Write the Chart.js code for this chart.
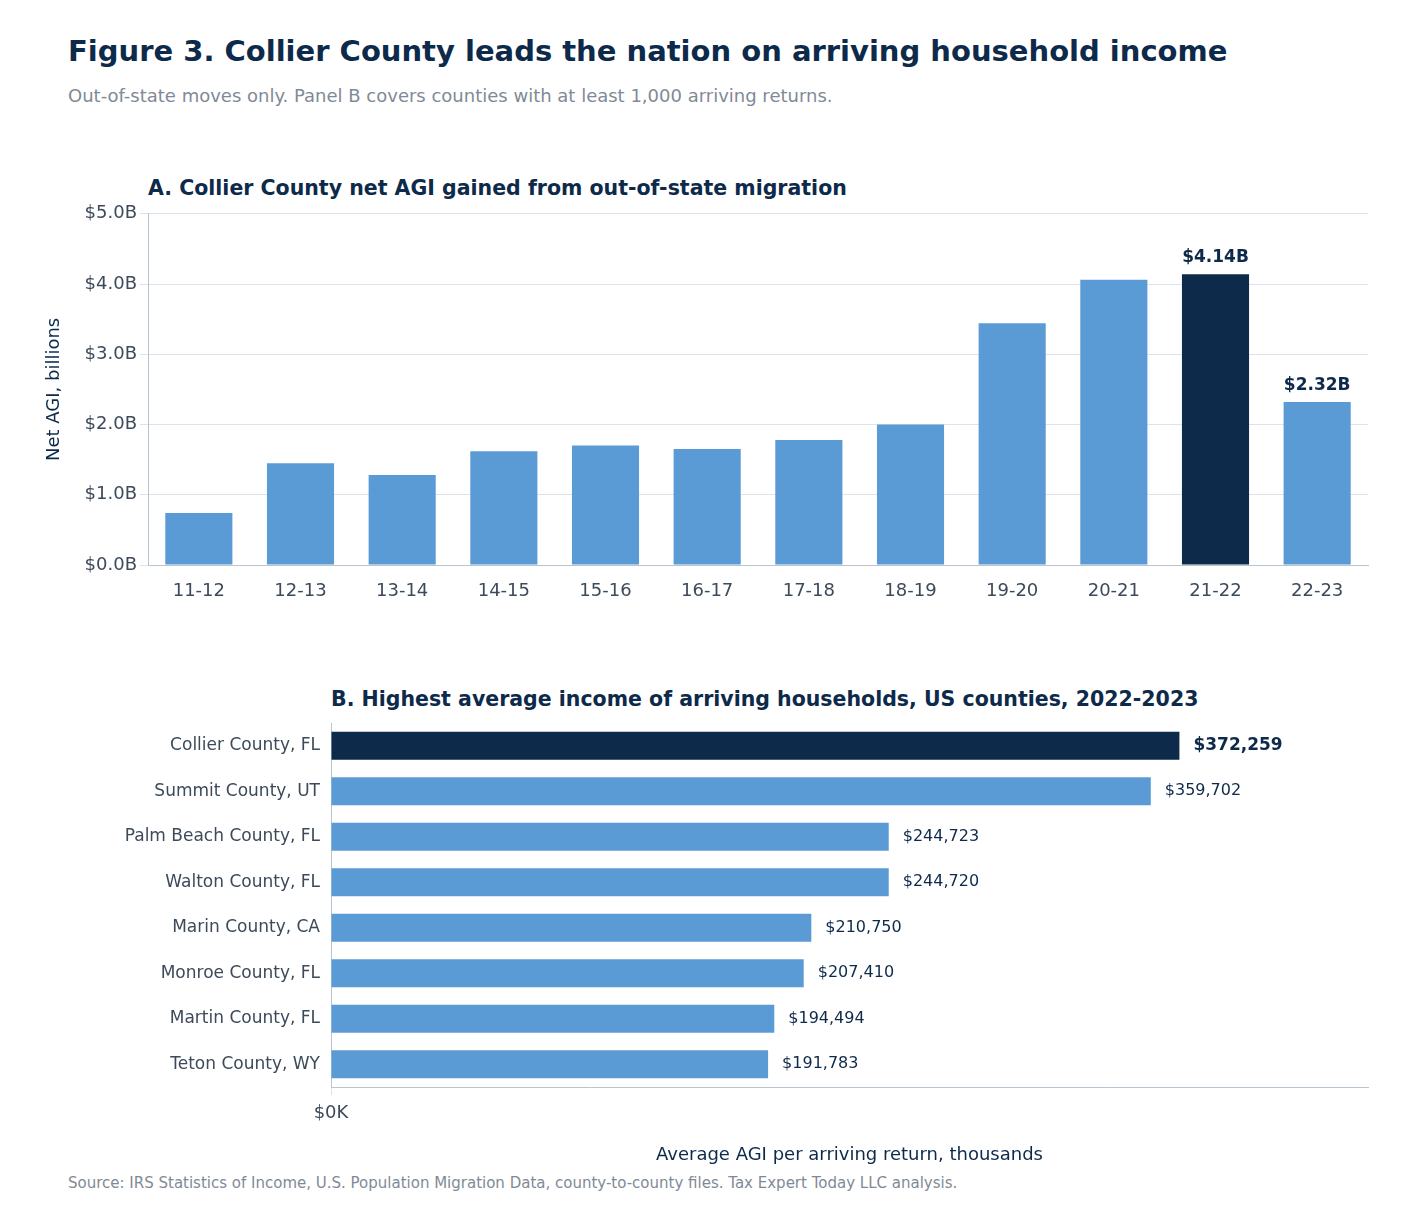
<!DOCTYPE html>
<html lang="en">
<head>
<meta charset="UTF-8">
<title>Figure 3</title>
<script src="https://cdn.jsdelivr.net/npm/chart.js"></script>
<style>
    body { margin: 0; background: #fff; font-family: "DejaVu Sans", sans-serif; width: 1410px; height: 1215px; position: relative; overflow: hidden; }
    .abs { position: absolute; white-space: nowrap; }
    #title { left: 68px; top: 34px; font-size: 29px; font-weight: bold; color: #0d2a4a; }
    #sub { left: 68px; top: 85px; font-size: 18px; color: #7f8a96; }
    .ptitle { font-size: 20.5px; font-weight: bold; color: #0d2a4a; }
    #source { left: 68px; top: 1174px; font-size: 15px; color: #7f8a96; }
</style>
</head>
<body>
<div class="abs" id="title">Figure 3. Collier County leads the nation on arriving household income</div>
<div class="abs" id="sub">Out-of-state moves only. Panel B covers counties with at least 1,000 arriving returns.</div>
<div class="abs ptitle" style="left:148px;top:176px">A. Collier County net AGI gained from out-of-state migration</div>
<div class="abs ptitle" style="left:331px;top:687px">B. Highest average income of arriving households, US counties, 2022-2023</div>
<div class="abs" style="left:0;top:200px;width:1410px;height:420px"><canvas id="chartA"></canvas></div>
<div class="abs" style="left:0;top:700px;width:1410px;height:470px"><canvas id="chartB"></canvas></div>
<div class="abs" id="source">Source: IRS Statistics of Income, U.S. Population Migration Data, county-to-county files. Tax Expert Today LLC analysis.</div>
<script>
    const years = ['11-12', '12-13', '13-14', '14-15', '15-16', '16-17', '17-18', '18-19', '19-20', '20-21', '21-22', '22-23'];
    const netAgi = [0.74, 1.45, 1.28, 1.62, 1.70, 1.65, 1.78, 2.00, 3.44, 4.06, 4.14, 2.32];
    const labeledYears = ['21-22', '22-23'];

    const counties = ['Collier County, FL', 'Summit County, UT', 'Palm Beach County, FL', 'Walton County, FL', 'Marin County, CA', 'Monroe County, FL', 'Martin County, FL', 'Teton County, WY'];
    const avgAgi = [372259, 359702, 244723, 244720, 210750, 207410, 194494, 191783];

    const navy = '#0d2a4a', blue = '#5b9bd5', grid = '#dbe3ec', axis = '#b8c4d0', tickC = '#3d4a5a';
    Chart.defaults.font.family = '"DejaVu Sans", sans-serif';
    Chart.defaults.animation = false;

    const barLabelsA = {
        id: 'barLabelsA',
        afterDatasetsDraw(chart) {
            const ctx = chart.ctx;
            const meta = chart.getDatasetMeta(0);
            ctx.save();
            ctx.font = 'bold 17px "DejaVu Sans"';
            ctx.fillStyle = navy;
            ctx.textAlign = 'center';
            ctx.textBaseline = 'bottom';
            years.forEach((y, i) => {
                if (!labeledYears.includes(y)) return;
                const el = meta.data[i];
                ctx.fillText('$' + netAgi[i].toFixed(2) + 'B', el.x, el.y - 8);
            });
            ctx.restore();
        }
    };

    new Chart(document.getElementById('chartA'), {
        type: 'bar',
        data: {
            labels: years,
            datasets: [{
                data: netAgi,
                backgroundColor: years.map(y => y === '21-22' ? navy : blue),
                categoryPercentage: 1,
                barPercentage: 0.66
            }]
        },
        plugins: [barLabelsA],
        options: {
            responsive: true,
            maintainAspectRatio: false,
            layout: { padding: { left: 40, right: 42, top: 13, bottom: 0 } },
            plugins: { legend: { display: false }, tooltip: { enabled: false } },
            scales: {
                x: {
                    grid: { display: false },
                    border: { color: axis },
                    ticks: { color: tickC, font: { size: 18 }, padding: 8 },
                    afterFit(s) { s.height = 55; }
                },
                y: {
                    min: 0, max: 5,
                    grid: { color: grid },
                    border: { color: axis },
                    ticks: { stepSize: 1, color: tickC, font: { size: 18 }, callback: v => '$' + v.toFixed(1) + 'B' },
                    title: { display: true, text: 'Net AGI, billions', color: navy, font: { size: 18 } },
                    afterFit(s) { s.width = 108; }
                }
            }
        }
    });

    const barLabelsB = {
        id: 'barLabelsB',
        afterDatasetsDraw(chart) {
            const ctx = chart.ctx;
            const meta = chart.getDatasetMeta(0);
            ctx.save();
            ctx.fillStyle = navy;
            ctx.textAlign = 'left';
            ctx.textBaseline = 'middle';
            counties.forEach((c, i) => {
                const el = meta.data[i];
                ctx.font = (i === 0 ? 'bold 17px' : '16px') + ' "DejaVu Sans"';
                ctx.fillText('$' + avgAgi[i].toLocaleString('en-US'), el.x + 14, el.y);
            });
            ctx.restore();
        }
    };

    new Chart(document.getElementById('chartB'), {
        type: 'bar',
        data: {
            labels: counties,
            datasets: [{
                data: avgAgi,
                backgroundColor: counties.map((c, i) => i === 0 ? navy : blue),
                categoryPercentage: 1,
                barPercentage: 0.62
            }]
        },
        plugins: [barLabelsB],
        options: {
            indexAxis: 'y',
            responsive: true,
            maintainAspectRatio: false,
            layout: { padding: { left: 0, right: 42, top: 23, bottom: 0 } },
            plugins: { legend: { display: false }, tooltip: { enabled: false } },
            scales: {
                x: {
                    min: 0, max: 455000,
                    grid: { color: c => (c.tick && c.tick.value % 100000 === 0) ? grid : 'rgba(0,0,0,0)' },
                    border: { color: axis },
                    ticks: { stepSize: 100000, color: tickC, font: { size: 18 }, padding: 8,
                        callback: v => v % 100000 === 0 ? '$' + (v / 1000) + 'K' : '' },
                    title: { display: true, text: 'Average AGI per arriving return, thousands', color: navy, font: { size: 18 } },
                    afterFit(s) { s.height = 83; }
                },
                y: {
                    grid: { display: false },
                    border: { color: axis },
                    ticks: { color: tickC, font: { size: 17 } },
                    afterFit(s) { s.width = 331; }
                }
            }
        }
    });
</script>
</body>
</html>
